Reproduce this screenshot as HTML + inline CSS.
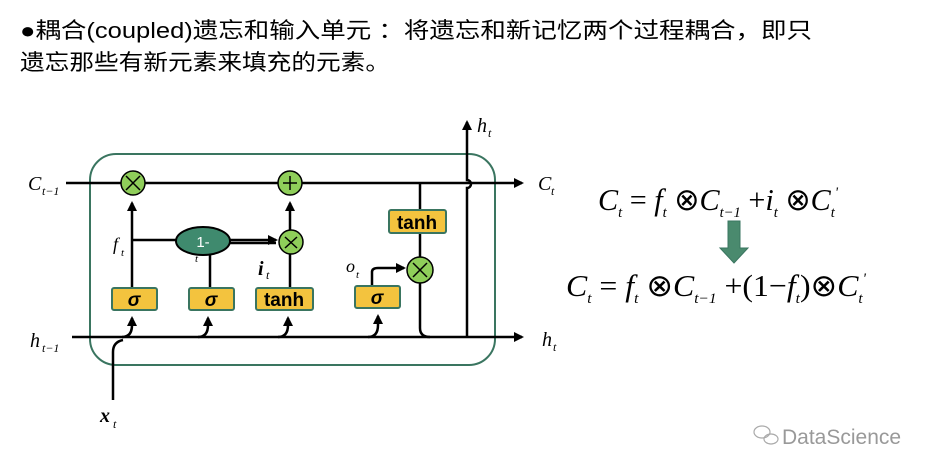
<!DOCTYPE html>
<html><head><meta charset="utf-8"><style>
body{margin:0;background:#fff;width:945px;height:475px;overflow:hidden}
svg{display:block}
.t{font-family:"Liberation Sans","Noto Sans CJK SC",sans-serif;font-size:22px;fill:#000}
.m{font-family:"Liberation Serif",serif;font-style:italic;fill:#000}
.b{font-family:"Liberation Sans",sans-serif;font-weight:bold;fill:#000}
</style></head><body>
<svg width="945" height="475" viewBox="0 0 945 475">
<defs><marker id="a" markerWidth="10" markerHeight="10" refX="8" refY="5" orient="auto" markerUnits="userSpaceOnUse"><path d="M0,0 L10,5 L0,10 Z" fill="#000"/></marker></defs>
<text class="t" x="20" y="38" textLength="792" lengthAdjust="spacingAndGlyphs">●耦合(coupled)遗忘和输入单元 ：将遗忘和新记忆两个过程耦合，即只</text>
<text class="t" x="20" y="70" textLength="370" lengthAdjust="spacingAndGlyphs">遗忘那些有新元素来填充的元素。</text>

<rect x="90" y="154" width="405" height="211" rx="26" fill="none" stroke="#3a7560" stroke-width="2"/>
<g stroke="#000" stroke-width="2.5" fill="none">
<line x1="66" y1="183" x2="522" y2="183" marker-end="url(#a)"/>
<line x1="72" y1="337" x2="522" y2="337" marker-end="url(#a)"/>
<path d="M467,337 V188 a4,4 0 0 0 0,-8 V122" marker-end="url(#a)"/>
<path d="M113,400 V352 q0,-10 10,-12"/>
<path d="M122,337 q10,0 10,-12 V318" marker-end="url(#a)"/>
<path d="M198,337 q10,0 10,-12 V318" marker-end="url(#a)"/>
<path d="M278,337 q10,0 10,-12 V318" marker-end="url(#a)"/>
<path d="M368,337 q10,0 10,-12 V316" marker-end="url(#a)"/>
<line x1="132" y1="288" x2="132" y2="203" marker-end="url(#a)"/>
<line x1="132" y1="240" x2="180" y2="240"/>
<line x1="210" y1="288" x2="210" y2="254"/>
<line x1="230" y1="240" x2="276" y2="240" marker-end="url(#a)"/>
<line x1="230" y1="243" x2="276" y2="243"/>
<line x1="290" y1="288" x2="290" y2="254"/>
<line x1="290" y1="230" x2="290" y2="203" marker-end="url(#a)"/>
<line x1="420" y1="183" x2="420" y2="210"/>
<line x1="420" y1="233" x2="420" y2="258"/>
<path d="M420,282 V328 q0,9 10,9"/>
<path d="M372,286 V272 q0,-4 6,-4 H404" marker-end="url(#a)"/>
</g>
<g stroke="#000" stroke-width="1.5" fill="#8fce5a">
<circle cx="133" cy="183" r="12"/><circle cx="290" cy="183" r="12"/>
<circle cx="291" cy="242" r="12"/><circle cx="420" cy="270" r="13"/>
</g>
<g stroke="#000" stroke-width="1.5">
<path d="M126,176 l14,14 M140,176 l-14,14 M283,183 h14 M290,176 v14 M285,237 l12,11 M297,237 l-12,11 M413,263 l14,14 M427,263 l-14,14"/>
</g>
<ellipse cx="203" cy="241" rx="27" ry="14" fill="#3f8a6e" stroke="#000" stroke-width="2"/>
<text x="203" y="247" font-family="Liberation Sans" font-size="15" fill="#fff" text-anchor="middle">1-</text>
<g fill="#f3c33e" stroke="#3a7560" stroke-width="2">
<rect x="112" y="288" width="45" height="22" rx="2"/><rect x="189" y="288" width="45" height="22" rx="2"/>
<rect x="256" y="288" width="57" height="22" rx="2"/><rect x="355" y="286" width="45" height="22" rx="2"/>
<rect x="389" y="210" width="57" height="23" rx="2"/>
</g>
<g class="b" font-size="19" text-anchor="middle">
<text x="134" y="306" font-style="italic">σ</text><text x="211" y="306" font-style="italic">σ</text>
<text x="284" y="306">tanh</text><text x="377" y="304" font-style="italic">σ</text><text x="417" y="229">tanh</text>
</g>
<g class="m" font-size="20">
<text x="28" y="190">C</text><text x="42" y="195" font-size="12">t−1</text>
<text x="30" y="347">h</text><text x="42" y="352" font-size="12">t−1</text>
<text x="538" y="190">C</text><text x="551" y="195" font-size="12">t</text>
<text x="542" y="346">h</text><text x="553" y="351" font-size="12">t</text>
<text x="477" y="132">h</text><text x="488" y="137" font-size="12">t</text>
<text x="100" y="422" font-weight="bold">x</text><text x="113" y="428" font-size="12">t</text>
<text x="113" y="250" font-size="18">f</text><text x="121" y="256" font-size="11">t</text>
<text x="258" y="275" font-weight="bold">i</text><text x="266" y="279" font-size="12">t</text>
<text x="346" y="272" font-size="18">o</text><text x="356" y="278" font-size="11">t</text>
<text x="195" y="262" font-size="11">t</text>
</g>
<g class="m" font-size="31">
<text x="598" y="210" textLength="240" lengthAdjust="spacingAndGlyphs">C<tspan font-size="15" dy="7">t</tspan><tspan dy="-7" font-style="normal"> = </tspan>f<tspan font-size="15" dy="7">t</tspan><tspan dy="-7" font-style="normal"> ⊗</tspan>C<tspan font-size="15" dy="7">t−1</tspan><tspan dy="-7" font-style="normal"> +</tspan>i<tspan font-size="15" dy="7">t</tspan><tspan dy="-7" font-style="normal"> ⊗</tspan>C<tspan font-size="15" dy="7">t</tspan><tspan font-size="15" dy="-20">'</tspan></text>
<text x="566" y="296" textLength="300" lengthAdjust="spacingAndGlyphs">C<tspan font-size="15" dy="7">t</tspan><tspan dy="-7" font-style="normal"> = </tspan>f<tspan font-size="15" dy="7">t</tspan><tspan dy="-7" font-style="normal"> ⊗</tspan>C<tspan font-size="15" dy="7">t−1</tspan><tspan dy="-7" font-style="normal"> +(1−</tspan>f<tspan font-size="15" dy="7">t</tspan><tspan dy="-7" font-style="normal">)⊗</tspan>C<tspan font-size="15" dy="7">t</tspan><tspan font-size="15" dy="-20">'</tspan></text>
</g>
<path d="M728,221 h12 v27 h8 l-14,15 l-14,-15 h8 Z" fill="#4a8a6e" stroke="#3a7560"/>
<text x="782" y="444" font-family="Liberation Sans" font-size="21" fill="#999">DataScience</text>
<g fill="none" stroke="#aaa" stroke-width="1.2"><ellipse cx="762" cy="432" rx="8" ry="6"/><ellipse cx="771" cy="439" rx="7" ry="5"/></g>
</svg>
</body></html>
